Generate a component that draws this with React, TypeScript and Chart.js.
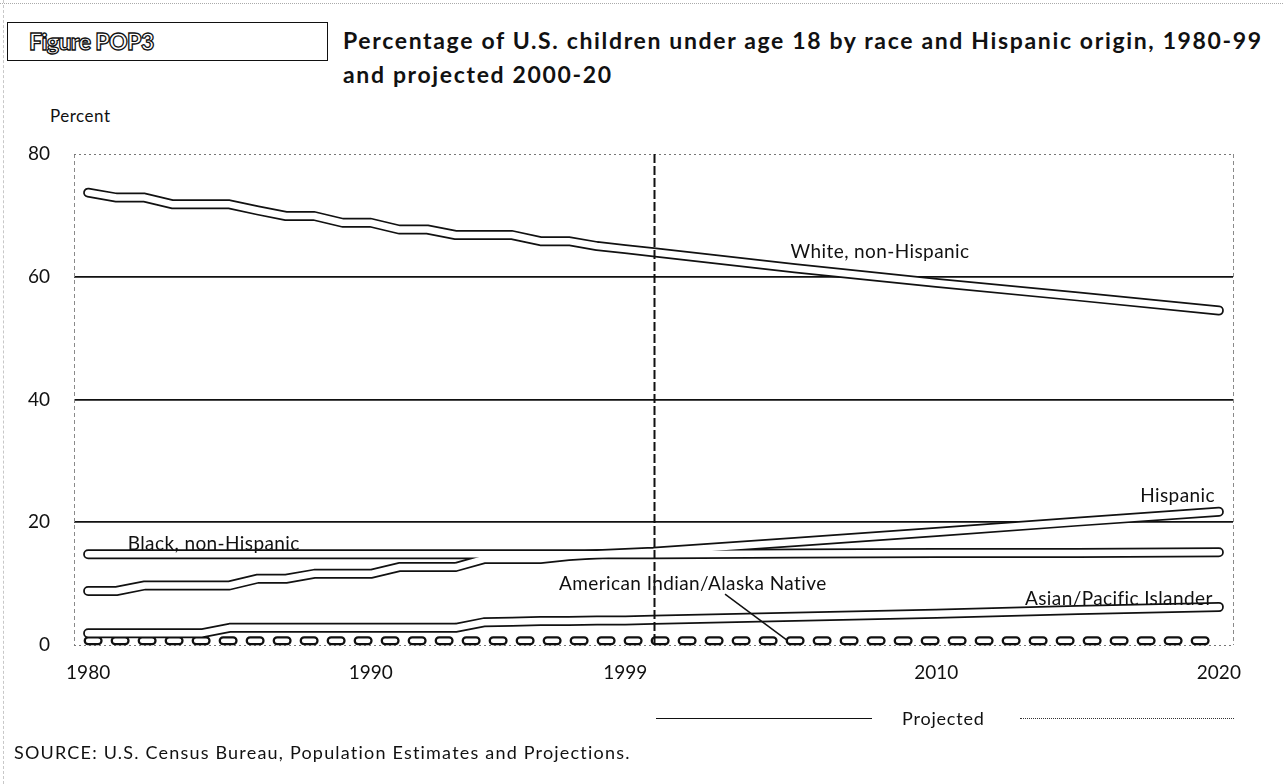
import React, { useEffect, useRef } from "react";
import { Chart, registerables } from "chart.js";

Chart.register(...registerables);

// ---- data ----
const YEARS = [
  1980, 1981, 1982, 1983, 1984, 1985, 1986, 1987, 1988, 1989,
  1990, 1991, 1992, 1993, 1994, 1995, 1996, 1997, 1998, 1999,
  2000, 2005, 2010, 2015, 2020,
];
const WHITE_NH = [
  73.7, 72.9, 72.9, 71.8, 71.8, 71.8, 70.8, 69.9, 69.9, 68.8,
  68.8, 67.7, 67.7, 66.8, 66.8, 66.8, 65.8, 65.8, 65.0, 64.5,
  64.0, 61.4, 59.0, 56.8, 54.5,
];
const HISPANIC = [
  8.8, 8.8, 9.7, 9.7, 9.7, 9.7, 10.8, 10.8, 11.6, 11.6,
  11.6, 12.7, 12.7, 12.7, 14.0, 14.0, 14.0, 14.5, 14.8, 15.0,
  15.2, 16.8, 18.4, 20.1, 21.7,
];
const BLACK_NH = [
  14.8, 14.8, 14.8, 14.8, 14.8, 14.8, 14.8, 14.8, 14.8, 14.8,
  14.8, 14.8, 14.8, 14.8, 14.8, 14.8, 14.8, 14.8, 14.8, 14.8,
  14.8, 14.9, 15.0, 15.0, 15.1,
];
const ASIAN_PI = [
  1.9, 1.9, 1.9, 1.9, 1.9, 2.8, 2.8, 2.8, 2.8, 2.8,
  2.8, 2.8, 2.8, 2.8, 3.7, 3.8, 3.9, 3.9, 4.0, 4.0,
  4.1, 4.6, 5.1, 5.7, 6.2,
];
const AIAN = [
  0.7, 0.7, 0.7, 0.7, 0.7, 0.7, 0.7, 0.7, 0.7, 0.7,
  0.7, 0.7, 0.7, 0.7, 0.7, 0.7, 0.7, 0.7, 0.7, 0.7,
  0.7, 0.7, 0.7, 0.7, 0.7,
];
const X_TICKS = [1980, 1990, 1999, 2010, 2020];
const Y_TICKS = [0, 20, 40, 60, 80];
const PROJECTION_START = 2000;

// ---- annotation placement (data units) ----
const SERIES_LABELS = [
  { text: "White, non-Hispanic", x: 2004.85, y: 63.0, align: "left" },
  { text: "Hispanic", x: 2019.86, y: 23.35, align: "right" },
  { text: "Black, non-Hispanic", x: 1981.4, y: 15.5, align: "left" },
  { text: "American Indian/Alaska Native", x: 1996.66, y: 8.96, align: "left" },
  { text: "Asian/Pacific Islander", x: 2013.14, y: 6.5, align: "left" },
];
const LEADER = { from: [2002.53, 8.3], to: [2004.72, 0.8] };

const FONT = "Lato, 'Open Sans', sans-serif";

function toPoints(values: number[]) {
  return values.map((v, i) => ({ x: YEARS[i], y: v }));
}

const overlayPlugin = {
  id: "overlay",
  beforeDatasetsDraw(chart: any) {
    const { ctx, chartArea } = chart;
    ctx.save();
    ctx.lineWidth = 1;
    // frame: left & right dashed, top & bottom dotted
    ctx.strokeStyle = "#8a8a8a";
    ctx.setLineDash([4, 3]);
    ctx.beginPath();
    ctx.moveTo(chartArea.left + 0.5, chartArea.top);
    ctx.lineTo(chartArea.left + 0.5, chartArea.bottom);
    ctx.moveTo(chartArea.right + 0.5, chartArea.top);
    ctx.lineTo(chartArea.right + 0.5, chartArea.bottom);
    ctx.stroke();
    ctx.setLineDash([2, 3]);
    ctx.strokeStyle = "#777";
    ctx.beginPath();
    ctx.moveTo(chartArea.left, Math.round(chartArea.top) + 0.5);
    ctx.lineTo(chartArea.right, Math.round(chartArea.top) + 0.5);
    ctx.moveTo(chartArea.left, Math.round(chartArea.bottom) + 0.5);
    ctx.lineTo(chartArea.right, Math.round(chartArea.bottom) + 0.5);
    ctx.stroke();
    ctx.restore();
  },
  afterDatasetsDraw(chart: any) {
    const { ctx, chartArea, scales } = chart;
    const x = scales.x;
    const y = scales.y;
    ctx.save();
    // projection divider
    const px = Math.round(x.getPixelForValue(PROJECTION_START)) + 0.5;
    ctx.strokeStyle = "#111";
    ctx.lineWidth = 2;
    ctx.setLineDash([9, 3]);
    ctx.beginPath();
    ctx.moveTo(px, chartArea.top);
    ctx.lineTo(px, chartArea.bottom);
    ctx.stroke();
    ctx.setLineDash([]);
    // leader line
    ctx.lineWidth = 1.5;
    ctx.beginPath();
    ctx.moveTo(x.getPixelForValue(LEADER.from[0]), y.getPixelForValue(LEADER.from[1]));
    ctx.lineTo(x.getPixelForValue(LEADER.to[0]), y.getPixelForValue(LEADER.to[1]));
    ctx.stroke();
    // series labels
    ctx.fillStyle = "#111";
    ctx.font = `19px ${FONT}`;
    (ctx as any).letterSpacing = "0.4px";
    ctx.textBaseline = "alphabetic";
    for (const l of SERIES_LABELS) {
      ctx.textAlign = l.align as CanvasTextAlign;
      ctx.fillText(l.text, x.getPixelForValue(l.x), y.getPixelForValue(l.y));
    }
    ctx.restore();
  },
};

export default function App() {
  const ref = useRef<HTMLCanvasElement | null>(null);

  useEffect(() => {
    if (!ref.current) return;
    const outline = (data: number[]) => ({
      data: toPoints(data),
      borderColor: "#111",
      borderWidth: 10,
      pointRadius: 0,
      tension: 0,
      borderCapStyle: "round",
      borderJoinStyle: "round",
      clip: false,
      order: 2,
    });
    const inner = (data: number[]) => ({
      data: toPoints(data),
      borderColor: "#fff",
      borderWidth: 6.5,
      pointRadius: 0,
      tension: 0,
      borderCapStyle: "round",
      borderJoinStyle: "round",
      clip: false,
      order: 1,
    });
    const chart = new Chart(ref.current, {
      type: "line",
      data: {
        datasets: [
          { label: "White, non-Hispanic", ...outline(WHITE_NH) },
          { label: "Hispanic", ...outline(HISPANIC) },
          { label: "Black, non-Hispanic", ...outline(BLACK_NH) },
          { label: "Asian/Pacific Islander", ...outline(ASIAN_PI) },
          {
            label: "American Indian/Alaska Native",
            ...outline(AIAN),
            borderWidth: 9,
            borderDash: [10, 17],
          },
          { label: "White inner", ...inner(WHITE_NH) },
          { label: "Hispanic inner", ...inner(HISPANIC) },
          { label: "Black inner", ...inner(BLACK_NH) },
          { label: "Asian inner", ...inner(ASIAN_PI) },
          {
            label: "AIAN inner",
            ...inner(AIAN),
            borderWidth: 4.5,
            borderDash: [10, 17],
          },
        ] as any,
      },
      options: {
        animation: false,
        responsive: false,
        devicePixelRatio: 1,
        layout: { padding: { left: 0, top: 154, right: 50, bottom: 94 } },
        plugins: { legend: { display: false }, tooltip: { enabled: false } },
        scales: {
          x: {
            type: "linear",
            min: 1979.5,
            max: 2020.5,
            afterBuildTicks: (s: any) => {
              s.ticks = X_TICKS.map((v) => ({ value: v }));
            },
            afterFit: (s: any) => {
              s.height = 45;
            },
            ticks: {
              autoSkip: false,
              maxRotation: 0,
              padding: 16,
              color: "#111",
              font: { family: FONT, size: 19 },
              callback: (v: any) => String(v),
            },
            grid: { display: false, drawTicks: false },
            border: { display: false },
          },
          y: {
            min: 0,
            max: 80,
            afterBuildTicks: (s: any) => {
              s.ticks = Y_TICKS.map((v) => ({ value: v }));
            },
            afterFit: (s: any) => {
              s.width = 74;
            },
            ticks: {
              padding: 24,
              color: "#111",
              font: { family: FONT, size: 19 },
              callback: (v: any) => String(v),
            },
            grid: {
              drawTicks: false,
              color: (c: any) =>
                c.tick && (c.tick.value === 0 || c.tick.value === 80) ? "rgba(0,0,0,0)" : "#111",
              lineWidth: 1.7,
            },
            border: { display: false },
          },
        },
      },
      plugins: [overlayPlugin],
    } as any);
    return () => chart.destroy();
  }, []);

  const text = (extra: React.CSSProperties): React.CSSProperties => ({
    position: "absolute",
    whiteSpace: "nowrap",
    color: "#111",
    fontFamily: FONT,
    ...extra,
  });

  return (
    <div
      style={{
        position: "fixed",
        left: 0,
        top: 0,
        width: 1283,
        height: 784,
        background: "#fff",
        overflow: "hidden",
      }}
    >
      <div style={{ position: "absolute", left: 0, top: 3, width: 1283, borderTop: "1px dotted #aaa" }} />
      <div style={{ position: "absolute", left: 3, top: 0, height: 784, borderLeft: "1px dashed #c8c8c8" }} />
      <div
        style={{
          position: "absolute",
          left: 7,
          top: 22,
          width: 321,
          height: 39,
          border: "1.5px solid #111",
          boxSizing: "border-box",
        }}
      />
      <div
        style={text({
          left: 29,
          top: 28,
          fontSize: 23,
          lineHeight: "26px",
          fontWeight: 900,
          color: "#fff",
          WebkitTextStroke: "1.3px #111",
          letterSpacing: "-0.6px",
        } as any)}
      >
        Figure POP3
      </div>
      <div
        style={text({
          left: 343,
          top: 23,
          fontSize: 23,
          lineHeight: "34px",
          fontWeight: 700,
          letterSpacing: "1.65px",
        })}
      >
        Percentage of U.S. children under age 18 by race and Hispanic origin, 1980-99
        <br />
        and projected 2000-20
      </div>
      <div style={text({ left: 50, top: 106, fontSize: 17, lineHeight: "20px", letterSpacing: "0.5px" })}>
        Percent
      </div>
      <canvas
        ref={ref}
        width={1283}
        height={784}
        style={{ position: "absolute", left: 0, top: 0, width: 1283, height: 784 }}
      />
      <div style={{ position: "absolute", left: 656, top: 718, width: 216, borderTop: "1.5px solid #111" }} />
      <div style={text({ left: 902, top: 708, fontSize: 18, lineHeight: "20px", letterSpacing: "0.8px" })}>
        Projected
      </div>
      <div style={{ position: "absolute", left: 1020, top: 718, width: 214, borderTop: "1.5px dotted #333" }} />
      <div style={text({ left: 14, top: 742, fontSize: 18, lineHeight: "20px", letterSpacing: "1.2px" })}>
        SOURCE: U.S. Census Bureau, Population Estimates and Projections.
      </div>
    </div>
  );
}
